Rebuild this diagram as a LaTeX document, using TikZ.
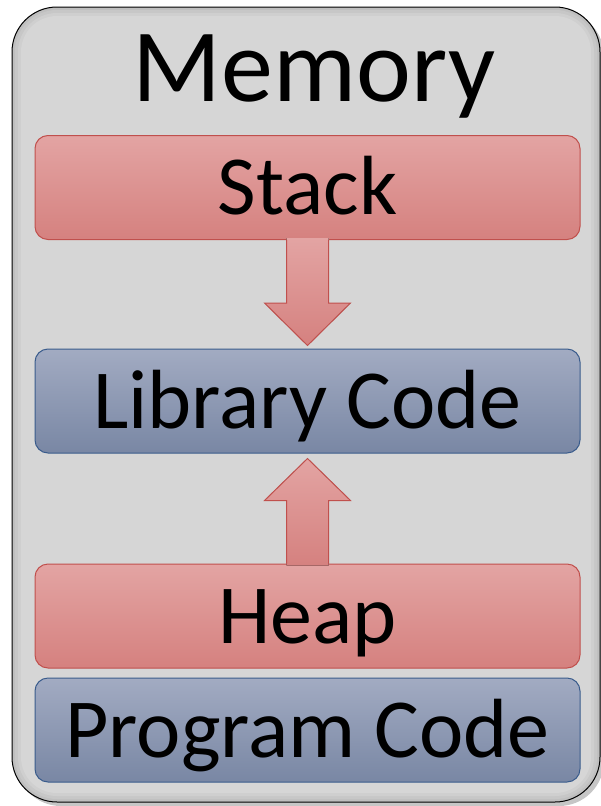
\documentclass[tikz,border=0pt]{standalone}
\usepackage{fontspec}
\setmainfont{Carlito}
\usetikzlibrary{positioning, calc, shadows}

\definecolor{redtop}{HTML}{E3A4A3}
\definecolor{redbot}{HTML}{D5817F}
\definecolor{redline}{HTML}{C0504D}
\definecolor{bluetop}{HTML}{A2ABC2}
\definecolor{bluebot}{HTML}{7987A4}
\definecolor{blueline}{HTML}{3A5C8C}
\definecolor{memgray}{HTML}{D9D9D9}

\tikzset{
  segment/.style={minimum width=545pt, minimum height=104pt, inner sep=0pt,
    rounded corners=13pt, line width=1pt,
    font=\fontsize{84}{84}\selectfont, text height=54pt, text depth=0pt},
  redseg/.style={segment, draw=redline, top color=redtop, bottom color=redbot},
  blueseg/.style={segment, draw=blueline, top color=bluetop, bottom color=bluebot},
  growfill/.style={top color=redtop, bottom color=redbot},
  growline/.style={draw=redline, line width=1pt, line join=miter},
}

\begin{document}
\begin{tikzpicture}[x=1pt, y=-1pt]
    \useasboundingbox (0,0) rectangle (601,806);

    % Memory frame
    \node[draw=black, line width=1pt, fill=black!25, rounded corners=45pt,
          minimum width=588pt, minimum height=795pt, inner sep=0pt,
          drop shadow={shadow xshift=4pt, shadow yshift=-4pt, opacity=.45}]
          (mem) at (306,404.5) {};
    \foreach \i/\g in {3/22, 6/19, 9/16}
        \node[fill=black!\g, rounded corners=45pt-\i pt,
              minimum width=588pt-2*\i pt, minimum height=795pt-2*\i pt, inner sep=0pt]
              at (mem.center) {};
    \node[font=\fontsize{104}{104}\selectfont, text height=67pt, text depth=0pt]
          (title) at (314,67.5) {Memory};

    % Segments
    \node[redseg]  (stack) at (307.5,187.5) {Stack};
    \node[blueseg] (lib)   at (307.5,401)   {Library Code};
    \node[redseg]  (heap)  at (307.5,616)   {Heap};
    \node[blueseg] (prog)  at (307.5,730)   {Program Code};

    % Stack grows down
    \fill[growfill] ($(stack.south)+(-21,-2)$) -- ++(0,65) -- ++(-22,0)
        -- ($(lib.north)+(0,-3)$) -- ($(stack.south)+(43,63)$) -- ++(-22,0)
        -- ++(0,-65) -- cycle;
    \draw[growline] ($(stack.south)+(-21,0)$) -- ++(0,63) -- ++(-22,0)
        -- ($(lib.north)+(0,-3)$) -- ($(stack.south)+(43,63)$) -- ++(-22,0)
        -- ++(0,-63);

    % Heap grows up
    \fill[growfill] ($(heap.north)+(-21,2)$) -- ++(0,-65) -- ++(-22,0)
        -- ($(lib.south)+(0,5)$) -- ($(heap.north)+(43,-63)$) -- ++(-22,0)
        -- ++(0,65) -- cycle;
    \draw[growline] ($(heap.north)+(-21,0)$) -- ++(0,-63) -- ++(-22,0)
        -- ($(lib.south)+(0,5)$) -- ($(heap.north)+(43,-63)$) -- ++(-22,0)
        -- ++(0,63);
\end{tikzpicture}
\end{document}
